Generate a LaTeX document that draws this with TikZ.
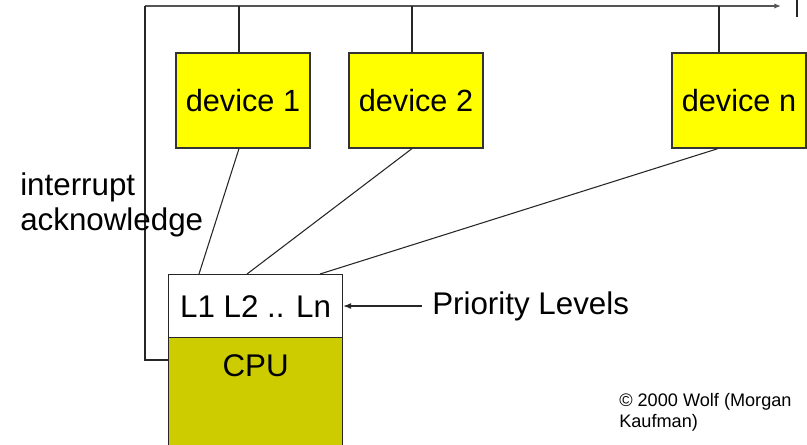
\documentclass[tikz,border=0pt]{standalone}
\usepackage{fontspec}
\setmainfont{Liberation Sans}
\usetikzlibrary{arrows.meta}

\definecolor{devyellow}{HTML}{FFFF00}
\definecolor{cpuolive}{HTML}{CCCC00}
\definecolor{busgray}{HTML}{555555}

\tikzset{
  devicebox/.style={draw=black!80, fill=devyellow, line width=0.9pt,
    minimum width=100.5pt, minimum height=71.25pt, inner sep=0pt,
    font=\fontsize{23}{26}\selectfont},
  wire/.style={line width=0.8pt, black!85},
  bigtext/.style={font=\fontsize{23.5}{26.5}\selectfont, inner sep=0pt}
}

\begin{document}
\begin{tikzpicture}[x=0.75pt, y=-0.75pt]
  % Frame
  \useasboundingbox (0,0) rectangle (807,444);

  % Devices
  \node[devicebox] (dev1) at (243,100.5) {device 1};
  \node[devicebox] (dev2) at (416,100.5) {device 2};
  \node[devicebox] (devn) at (739,100.5) {device n};

  % CPU with priority levels
  \node[draw=black!85, fill=white, line width=0.9pt, anchor=north west,
        minimum width=130.5pt, minimum height=47.25pt, inner sep=0pt,
        font=\fontsize{23.5}{26}\selectfont] (prio) at (168,274) {L1 L2 .. Ln};
  \node[draw=black!85, fill=cpuolive, line width=0.9pt, anchor=north west,
        minimum width=130.5pt, minimum height=90pt, inner sep=0pt] (cpu) at (168,337) {};
  \node[bigtext, anchor=north] (cputext) at ([yshift=-13pt]cpu.north) {CPU};

  % Bus
  \coordinate (busl) at (145,6);
  \coordinate (busr) at (781,6);
  \coordinate (ackl) at (145,360);
  \draw[line width=1.4pt, busgray, -{Latex[length=5pt,width=4pt]}] (busl) -- (busr);
  \draw[wire] (busl) -- (ackl) -- (ackl -| cpu.west);
  \draw[wire] (239,6) -- (239,6 |- dev1.north);
  \draw[wire] (412,6) -- (412,6 |- dev2.north);
  \draw[wire] (719,6) -- (719,6 |- devn.north);
  \coordinate (tick) at (797,0);
  \draw[wire] (tick) -- ++(0,17);

  % Interrupt request lines
  \draw[wire] (239,0 |- dev1.south) -- (199,0 |- prio.north);
  \draw[wire] (412,0 |- dev2.south) -- (247,0 |- prio.north);
  \draw[wire] (718,0 |- devn.south) -- (320,0 |- prio.north);

  % Labels
  \node[bigtext, anchor=west, align=left] (ack) at (20,205)
    {interrupt\\acknowledge};
  \node[bigtext, anchor=west] (prlabel) at (432,306) {Priority Levels};
  \draw[wire, -{Latex[length=6pt,width=4.5pt]}] (prlabel.west) ++(-10,0) coordinate (prtail)
    (prtail) -- (prio.east |- prtail);
  \node[anchor=north west, align=left, inner sep=0pt,
        font=\fontsize{13.6}{16}\selectfont] (copy) at (619,393)
    {© 2000 Wolf (Morgan\\Kaufman)};
\end{tikzpicture}
\end{document}
